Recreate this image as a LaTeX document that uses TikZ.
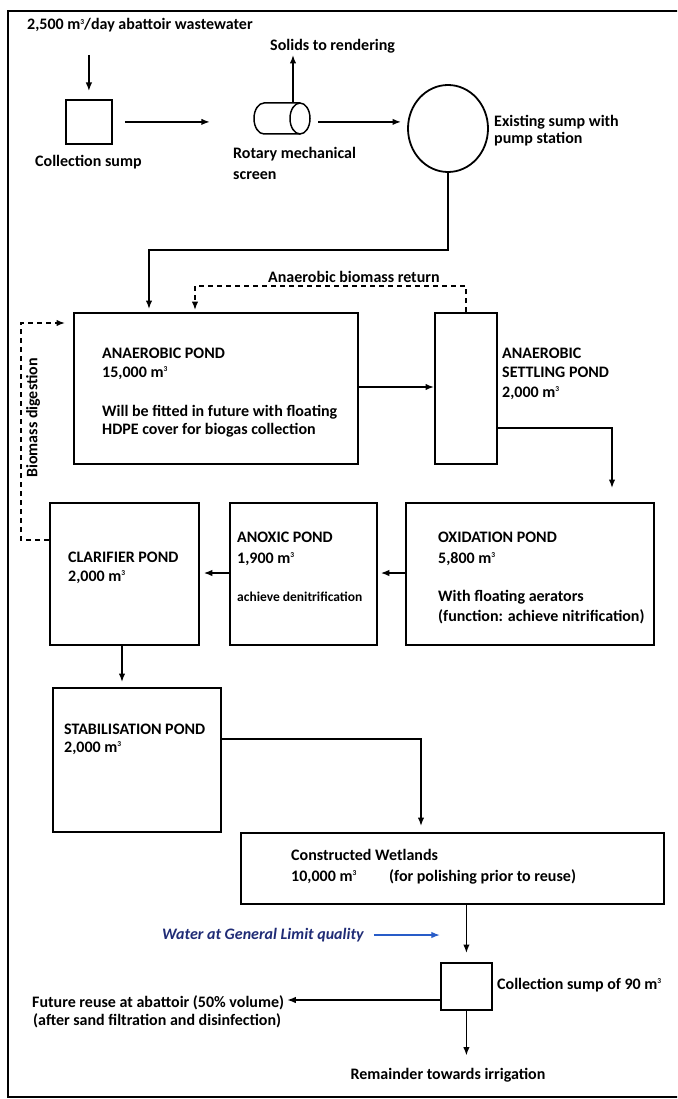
\documentclass[tikz,border=0pt]{standalone}
\usepackage{fontspec}
\setmainfont{Carlito}
\usetikzlibrary{arrows.meta,positioning,shapes.geometric}
\definecolor{navy}{RGB}{32,44,118}
\definecolor{flowblue}{RGB}{40,92,200}
\newcommand{\cub}{m\raisebox{5.5pt}{\fontsize{7.5}{7.5}\selectfont 3}}
\tikzset{
  pond/.style={draw,line width=1.8pt,inner sep=0pt,anchor=north west},
  txt/.style={anchor=base west,inner sep=0pt,font=\bfseries\fontsize{16}{19}\selectfont},
  small/.style={txt,font=\bfseries\fontsize{13.5}{16}\selectfont},
  flow/.style={line width=1.5pt,-{Latex[length=8.5pt,width=6.5pt]}},
  ret/.style={flow,dash pattern=on 5pt off 4pt},
}
\begin{document}
\begin{tikzpicture}[x=1pt,y=-1pt]
  \useasboundingbox[fill=white] (0,0) rectangle (677,1099);
  \clip (0,0) rectangle (677,1099);
  \draw[line width=1.4pt] (690,11) -- (8,11) -- (8,1097) -- (690,1097);

  \node[txt] (inflow) at (27,30) {2,500 \cub/day abattoir wastewater};
  \node[pond,minimum width=46pt,minimum height=44pt] (sump) at (65,99) {};
  \node[txt] (sump-t) at (35,167) {Collection sump};
  % rotary screen drawn as a small lying drum
  \coordinate (screen) at (282,118.5);
  \draw[line width=1.5pt] (300,103) -- (264,103)
    arc[start angle=90,end angle=270,x radius=10pt,y radius=15.5pt] -- (300,134);
  \draw[line width=1.5pt] (300,118.5) ellipse[x radius=10pt,y radius=15.5pt];
  \node[txt] (solids) at (270,51) {Solids to rendering};
  \node[txt] (screen-t) at (233,159) {Rotary mechanical};
  \node[txt] (screen-t2) at (233,180) {screen};
  \node[ellipse,draw,line width=1.8pt,inner sep=0pt,minimum width=80pt,
        minimum height=87pt] (pump) at (448,128.5) {};
  \node[txt] (pump-t) at (494,127) {Existing sump with};
  \node[txt] (pump-t2) at (494,144) {pump station};

  \node[pond,minimum width=284pt,minimum height=151pt] (anaer) at (73,312) {};
  \node[txt] (anaer-t) at (102,358) {ANAEROBIC POND};
  \node[txt] (anaer-v) at (102,377) {15,000 \cub};
  \node[txt] (anaer-n) at (102,416) {Will be fitted in future with floating};
  \node[txt] (anaer-n2) at (102,434) {HDPE cover for biogas collection};

  \node[pond,minimum width=62pt,minimum height=151pt] (settle) at (434,312) {};
  \node[txt] (settle-t) at (502,358) {ANAEROBIC};
  \node[txt] (settle-t2) at (502,377) {SETTLING POND};
  \node[txt] (settle-v) at (502,397) {2,000 \cub};
  \node[txt] (ret-t) at (268,282) {Anaerobic biomass return};

  \node[pond,minimum width=149pt,minimum height=142pt] (clar) at (49,502) {};
  \node[txt] (clar-t) at (68,562) {CLARIFIER POND};
  \node[txt] (clar-v) at (68,581) {2,000 \cub};
  \node[pond,minimum width=147pt,minimum height=142pt] (anox) at (229,502) {};
  \node[txt] (anox-t) at (237,542) {ANOXIC POND};
  \node[txt] (anox-v) at (237,563) {1,900 \cub};
  \node[small] (anox-n) at (237,601) {achieve denitrification};
  \node[pond,minimum width=248pt,minimum height=142pt] (oxid) at (405,502) {};
  \node[txt] (oxid-t) at (438,542) {OXIDATION POND};
  \node[txt] (oxid-v) at (438,563) {5,800 \cub};
  \node[txt] (oxid-n) at (438,601) {With floating aerators};
  \node[txt] (oxid-n2) at (438,621) {(function: achieve nitrification)};
  \node[txt,anchor=center,rotate=90] (dig-t) at (33,418) {Biomass digestion};

  \node[pond,minimum width=168pt,minimum height=144pt] (stab) at (52,687) {};
  \node[txt] (stab-t) at (64,734) {STABILISATION POND};
  \node[txt] (stab-v) at (64,752) {2,000 \cub};

  \node[pond,minimum width=423pt,minimum height=71pt] (wet) at (240,832) {};
  \node[txt] (wet-t) at (291,860) {Constructed Wetlands};
  \node[txt] (wet-v) at (291,881) {10,000 \cub};
  \node[txt] (wet-n) at (389,881) {(for polishing prior to reuse)};

  \node[txt,font=\bfseries\itshape\fontsize{16}{19}\selectfont,text=navy] (qual) at (162,939) {Water at General Limit quality};
  \node[pond,minimum width=51pt,minimum height=47pt] (sump2) at (440,962) {};
  \node[txt] (sump2-t) at (497,989) {Collection sump of 90 \cub};
  \node[txt] (reuse) at (32,1007) {Future reuse at abattoir (50\% volume)};
  \node[txt] (reuse2) at (33,1025) {(after sand filtration and disinfection)};
  \node[txt,anchor=base] (irr) at (448,1079) {Remainder towards irrigation};

  \draw[flow] (sump.north |- 0,55) -- ([yshift=8pt]sump.north);
  \draw[flow] ([xshift=12pt]sump.east) -- ++(85,0);
  \draw[flow] ([shift={(11,-15.5)}]screen) -- ++(0,-48);
  \draw[flow] ([xshift=36pt]screen |- sump.east) -- ++(83,0);
  \draw[flow] (pump.south) |- (149,250) -- ([shift={(76,-3)}]anaer.north west);
  \draw[ret] (settle.north) |- (195,286) -- ([shift={(122,-2)}]anaer.north west);
  \draw[flow] (anaer.east |- 0,387) -- (settle.west |- 0,387);
  \draw[flow] (settle.east |- 0,428) -| ([shift={(207,-14)}]oxid.north west);
  \draw[flow] (oxid.west |- 0,573) -- ([xshift=3pt]anox.east |- 0,573);
  \draw[flow] (anox.west |- 0,573) -- ([xshift=4pt]clar.east |- 0,573);
  \draw[ret] (clar.west |- 0,540) -| (21,323) -- ([xshift=-8pt]anaer.west |- 0,323);
  \draw[flow] (clar.south -| 122,0) -- ([yshift=5pt]stab.north -| 122,0);
  \draw[flow] (stab.east |- 0,739) -| ([yshift=6pt]wet.north -| 421,0);
  \draw[flow] (wet.south -| sump2) -- ([yshift=9pt]sump2.north);
  \draw[flow,color=flowblue,line width=1.2pt] ([xshift=10pt]qual.east |- 0,935) -- ++(66,0);
  \draw[flow] (sump2.west |- 0,1000) -- ([xshift=3pt]reuse.east |- 0,1000);
  \draw[flow] (sump2.south) -- ([yshift=12pt]irr.north -| sump2.south);
\end{tikzpicture}
\end{document}
